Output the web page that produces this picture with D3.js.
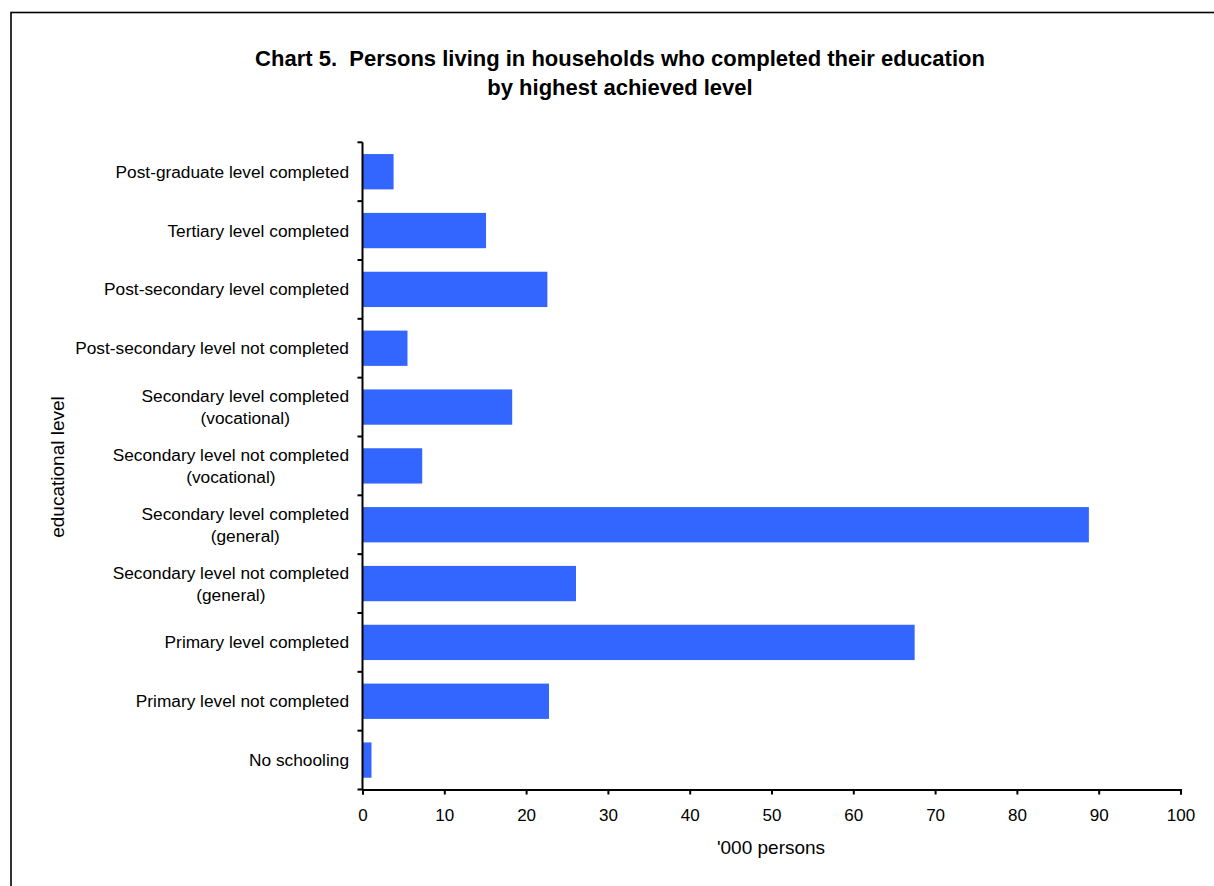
<!DOCTYPE html>
<html><head><meta charset="utf-8">
<script src="https://cdn.jsdelivr.net/npm/d3@7"></script>
<style>body{margin:0;background:#fff}svg{display:block}text{font-family:"Liberation Sans",Arial,sans-serif;fill:#000}</style>
</head><body>
<svg id="c" width="1214" height="886"></svg>
<script>
const categories = [
  ["Post-graduate level completed"],
  ["Tertiary level completed"],
  ["Post-secondary level completed"],
  ["Post-secondary level not completed"],
  ["Secondary level completed", "(vocational)"],
  ["Secondary level not completed", "(vocational)"],
  ["Secondary level completed", "(general)"],
  ["Secondary level not completed", "(general)"],
  ["Primary level completed"],
  ["Primary level not completed"],
  ["No schooling"]
];
const values = [3.8, 15.1, 22.6, 5.5, 18.3, 7.3, 88.8, 26.1, 67.5, 22.8, 1.1];
const xTicks = [0,10,20,30,40,50,60,70,80,90,100];
const titleLines = ["Chart 5.\u00a0 Persons living in households who completed their education", "by highest achieved level"];
const xTitle = "'000 persons";
const yTitle = "educational level";

const svg = d3.select("#c");
svg.append("rect").attr("x",11).attr("y",12.5).attr("width",1220).attr("height",900)
  .attr("fill","none").attr("stroke","#000").attr("stroke-width",1.6);

const x0 = 362.5, x1 = 1180.5, yTop = 142.3, yBot = 789.5;
const x = d3.scaleLinear().domain([0,100]).range([x0,x1]);
const y = d3.scaleBand().domain(categories.map((d,i)=>i)).range([yTop,yBot]).paddingInner(0.4).paddingOuter(0.2);

svg.selectAll("rect.bar").data(values).join("rect").attr("class","bar")
  .attr("x", x(0)).attr("y",(d,i)=>y(i)).attr("height",y.bandwidth())
  .attr("width", d=>x(d)-x(0)).attr("fill","#3366ff");

// x axis
const xa = svg.append("g").attr("transform",`translate(0,${yBot})`)
  .call(d3.axisBottom(x).tickValues(xTicks).tickSize(5).tickPadding(14).tickFormat(d3.format("d")));
xa.attr("font-size",17).attr("font-family",null);
xa.select(".domain").attr("stroke","#000").attr("stroke-width",2);
xa.selectAll(".tick line").attr("stroke","#000").attr("stroke-width",2);
xa.selectAll(".tick text").attr("font-size",17);

// y axis line and ticks (at band boundaries)
const step = y.step();
const bounds = d3.range(categories.length+1).map(i=>yTop + i*step);
svg.append("line").attr("x1",x0).attr("x2",x0).attr("y1",yTop).attr("y2",yBot).attr("stroke","#000").attr("stroke-width",2);
svg.selectAll("line.yt").data(bounds).join("line").attr("class","yt")
  .attr("x1",x0-5).attr("x2",x0).attr("y1",d=>d).attr("y2",d=>d).attr("stroke","#000").attr("stroke-width",2);

// y labels
const lh = 22;
categories.forEach((lines,i)=>{
  const cy = y(i) + y.bandwidth()/2;
  const t = svg.append("text").attr("text-anchor","middle").attr("font-size",17.3);
  const cx = 349;
  lines.forEach((ln,j)=>{
    t.append("tspan").attr("x",0).attr("y", cy + (j - (lines.length-1)/2)*lh).attr("dy","0.35em").text(ln);
  });
  const w = t.node().getBBox().width;
  t.attr("transform",`translate(${cx - w/2},0)`);
});

// titles
titleLines.forEach((s,i)=>{
  svg.append("text").attr("x",620).attr("y",58+i*29).attr("dy","0.35em").attr("text-anchor","middle")
    .attr("font-size",22).attr("font-weight","bold").text(s);
});
svg.append("text").attr("x",771).attr("y",847).attr("dy","0.35em").attr("text-anchor","middle").attr("font-size",19).text(xTitle);
svg.append("text").attr("transform","translate(57,467) rotate(-90)").attr("dy","0.35em").attr("text-anchor","middle").attr("font-size",19).text(yTitle);
</script>
</body></html>
